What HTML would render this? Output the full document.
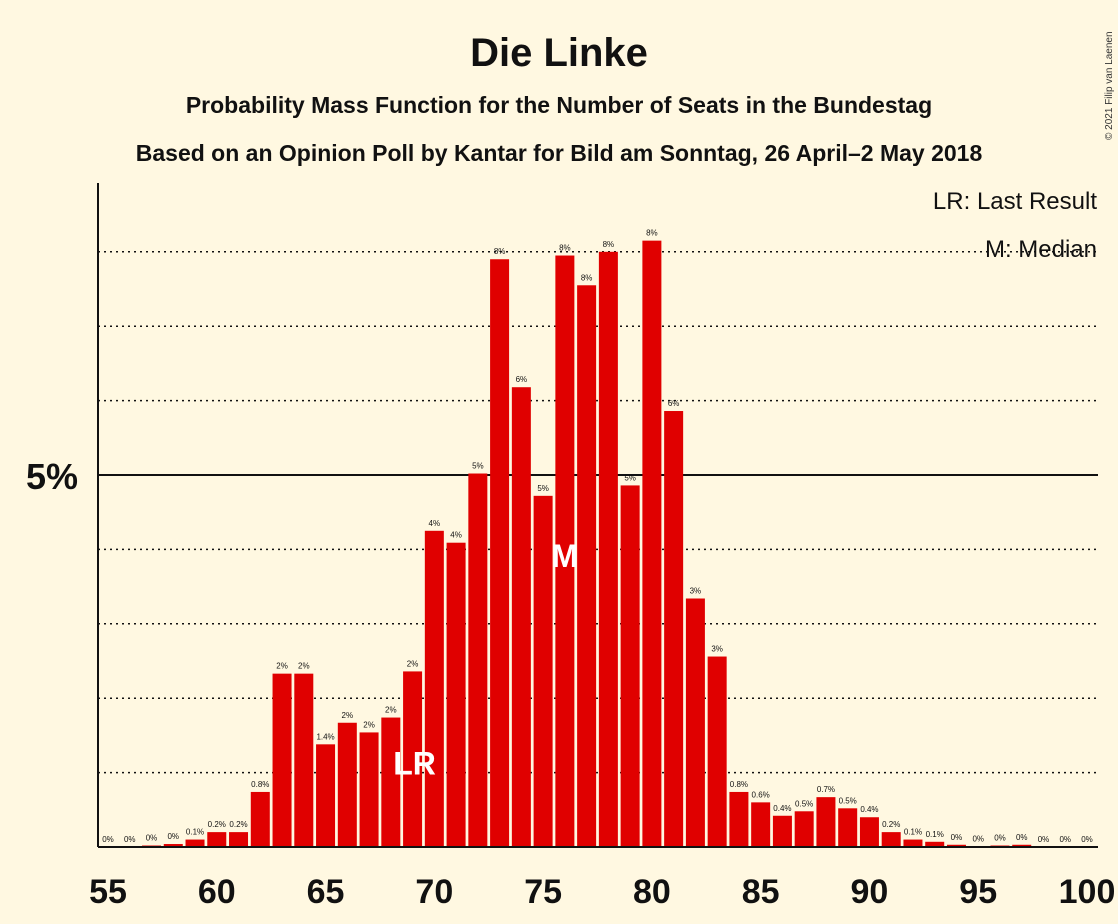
<!DOCTYPE html>
<html><head><meta charset="utf-8"><style>
body{margin:0;background:#fff8e1;}
svg{display:block;font-family:"Liberation Sans",sans-serif;}
</style></head><body>
<svg id="c" width="1118" height="924">
<rect width="1118" height="924" fill="#fff8e1"/>
<text x="559" y="66" text-anchor="middle" font-size="40" font-weight="bold" fill="#111">Die Linke</text>
<text x="559" y="113" text-anchor="middle" font-size="23" font-weight="bold" fill="#111">Probability Mass Function for the Number of Seats in the Bundestag</text>
<text x="559" y="161" text-anchor="middle" font-size="23" font-weight="bold" fill="#111">Based on an Opinion Poll by Kantar for Bild am Sonntag, 26 April–2 May 2018</text>
<text x="1112" y="140" font-size="10" fill="#333" transform="rotate(-90 1112 140)">© 2021 Filip van Laenen</text>
<g id="grid"></g>
<g id="bars"></g>
<g id="axes"></g>
<text x="1097" y="209" text-anchor="end" font-size="24" fill="#111">LR: Last Result</text>
<text x="1097" y="257" text-anchor="end" font-size="24" fill="#111">M: Median</text>
</svg>
<script>
const seats=[55,56,57,58,59,60,61,62,63,64,65,66,67,68,69,70,71,72,73,74,75,76,77,78,79,80,81,82,83,84,85,86,87,88,89,90,91,92,93,94,95,96,97,98,99,100];
const values=[0,0,0.02,0.04,0.1,0.2,0.2,0.74,2.33,2.33,1.38,1.67,1.54,1.74,2.36,4.25,4.09,5.02,7.9,6.18,4.72,7.95,7.55,8.0,4.86,8.15,5.86,3.34,2.56,0.74,0.6,0.42,0.48,0.67,0.52,0.4,0.2,0.1,0.07,0.03,0.01,0.02,0.03,0,0,0];
const labels=["0%","0%","0%","0%","0.1%","0.2%","0.2%","0.8%","2%","2%","1.4%","2%","2%","2%","2%","4%","4%","5%","8%","6%","5%","8%","8%","8%","5%","8%","6%","3%","3%","0.8%","0.6%","0.4%","0.5%","0.7%","0.5%","0.4%","0.2%","0.1%","0.1%","0%","0%","0%","0%","0%","0%","0%"];
const xTicks=[55,60,65,70,75,80,85,90,95,100];
const lastResult=69, median=76;
const NS="http://www.w3.org/2000/svg";
const x0=98,x1=1098,base=847,pxPer=74.4;
const xs=s=>108+(s-55)*(1087-108)/45;
const ys=v=>base-v*pxPer;
function mk(t,a,p){const e=document.createElementNS(NS,t);for(const k in a)e.setAttribute(k,a[k]);p.appendChild(e);return e;}
const grid=document.getElementById('grid'),bars=document.getElementById('bars'),axes=document.getElementById('axes');
for(let g=1;g<=8;g++){const l=mk('line',{x1:x0,x2:x1,y1:ys(g),y2:ys(g),stroke:'#111','stroke-width':g==5?2:1.5,'stroke-dasharray':g==5?'':'2,4'},grid);

}
const t5=mk('text',{x:78,y:ys(5)+14,'text-anchor':'end','font-size':36,'font-weight':'bold',fill:'#111'},axes);t5.textContent='5%';


seats.forEach((s,i)=>{const v=values[i];
 if(v>0){const r=mk('rect',{x:xs(s)-9.5,y:ys(v),width:19,height:base-ys(v),fill:'#e00000'},bars);
 
 }
 const t=mk('text',{x:xs(s),y:ys(v)-5,'text-anchor':'middle','font-size':8,fill:'#111'},bars);t.textContent=labels[i];
 
 
});
const lr=mk('text',{x:xs(lastResult)+2,y:ys(values[seats.indexOf(lastResult)])+103,'text-anchor':'middle','font-size':32,'font-weight':'bold',fill:'#fff'},bars);lr.textContent='LR';


const m=mk('text',{x:xs(median),y:567,'text-anchor':'middle','font-size':32,'font-weight':'bold',fill:'#fff'},bars);m.textContent='M';


const ya=mk('line',{x1:x0,x2:x0,y1:183,y2:base,stroke:'#111','stroke-width':2},axes);


const xa=mk('line',{x1:x0,x2:x1,y1:base,y2:base,stroke:'#111','stroke-width':2},axes);


xTicks.forEach(s=>{const t=mk('text',{x:xs(s),y:903,'text-anchor':'middle','font-size':34,'font-weight':'bold',fill:'#111'},axes);t.textContent=s;
 
 });
</script>
</body></html>
